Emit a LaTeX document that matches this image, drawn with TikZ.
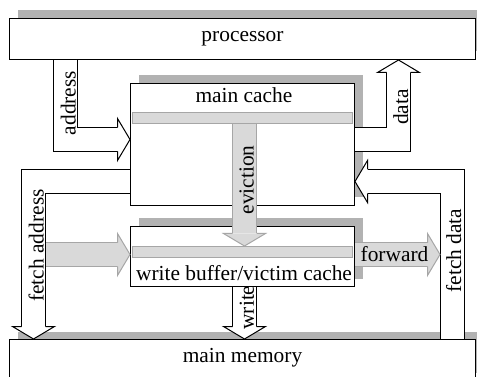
\documentclass[tikz,border=0pt]{standalone}
\usepackage{fontspec}
\setmainfont{Liberation Serif}
\usetikzlibrary{calc,shadows}

\tikzset{
  box/.style={draw, fill=white, line width=1pt, inner sep=0pt,
    text height=0.7em, text depth=0.25em,
    general shadow={fill=black!30, shadow xshift=8pt, shadow yshift=8pt}},
  bar/.style={draw=black!35, fill=black!15, line width=1pt,
    minimum width=220pt, minimum height=11pt, inner sep=0pt},
  fat/.style={draw=black, double=white, double distance=23pt,
    line width=1pt, line join=miter},
  greyfat/.style={fat, draw=black!35, double=black!15},
  headw/.style={fill=white, draw=black, line width=1pt},
  headg/.style={fill=black!15, draw=black!35, line width=1pt},
  pics/fathead/.style={code={
    \path[#1] (-12.5,12) -- (-12.5,21) -- (0,0) -- (-12.5,-21) -- (-12.5,-12);
  }},
}

\begin{document}
\begin{tikzpicture}[x=1pt, y=-1pt, font=\fontsize{21.4}{25}\selectfont]
  \useasboundingbox (0,0) rectangle (477,377);

  % the four units
  \node[box, minimum width=466pt, minimum height=41pt] (proc) at (242.5,39) {processor};
  \node[box, minimum width=224pt, minimum height=122pt] (cache) at (242.5,144.5) {};
  \node[box, minimum width=224pt, minimum height=60pt] (wb) at (242.5,256.5) {};
  \node[box, minimum width=466pt, minimum height=41pt] (mem) at (242.5,360) {main memory};
  \node[bar] (cachebar) at (242.5,118) {};
  \node[bar] (wbbar) at (242.5,252) {};
  \node[anchor=base] (cachetxt) at (244,103) {main cache};
  \node[anchor=base] (wbtxt) at (244,280) {write buffer/victim cache};

  % bends and free ends
  \coordinate (addrbend) at (65.5,139.5);
  \coordinate (databend) at (398.5,139.5);
  \coordinate (fabend) at (33.5,181.5);
  \coordinate (fdbend) at (452.5,181.5);
  \coordinate (mid) at (244.5,0);
  \coordinate (wbin) at (46,254.5);
  \coordinate (fwdtip) at (440,254.5);

  % processor <-> main cache
  \draw[fat] (proc.south -| addrbend) -- (addrbend) -- ($(cache.west |- addrbend)+(-12.5,0)$);
  \pic at (cache.west |- addrbend) {fathead=headw};
  \draw[fat] (cache.east |- databend) -- (databend) -- ($(proc.south -| databend)+(0,12.5)$);
  \pic[rotate=90] at (proc.south -| databend) {fathead=headw};

  % main cache <-> main memory
  \draw[fat] (cache.west |- fabend) -- (fabend) -- ($(mem.north -| fabend)+(0,-12.5)$);
  \pic[rotate=-90] at (mem.north -| fabend) {fathead=headw};
  \draw[fat] (mem.north -| fdbend) -- (fdbend) -- ($(cache.east |- fdbend)+(12.5,0)$);
  \pic[rotate=180] at (cache.east |- fdbend) {fathead=headw};

  % write buffer paths
  \draw[greyfat] (cachebar.south -| mid) -- ($(wbbar.north -| mid)+(0,-12.5)$);
  \pic[rotate=-90] at (wbbar.north -| mid) {fathead=headg};
  \draw[fat] (wb.south -| mid) -- ($(mem.north -| mid)+(0,-12.5)$);
  \pic[rotate=-90] at (mem.north -| mid) {fathead=headw};
  \draw[greyfat] (wbin) -- ($(wb.west |- wbin)+(-12.5,0)$);
  \pic at (wb.west |- wbin) {fathead=headg};
  \draw[greyfat] (wb.east |- fwdtip) -- ($(fwdtip)+(-12.5,0)$);
  \pic at (fwdtip) {fathead=headg};

  % labels
  \node[rotate=90] (addrtxt) at (68.3,103) {address};
  \node[rotate=90] (datatxt) at (400.8,107) {data};
  \node[rotate=90] (fatxt) at (36.3,245.5) {fetch address};
  \node[rotate=90] (fdtxt) at (453.8,250.5) {fetch data};
  \node[rotate=90] (evtxt) at (246.7,180) {eviction};
  \node[rotate=90] (wrtxt) at (247,307.5) {write};
  \node[anchor=base] (fwdtxt) at (394.5,261.7) {forward};
\end{tikzpicture}
\end{document}
